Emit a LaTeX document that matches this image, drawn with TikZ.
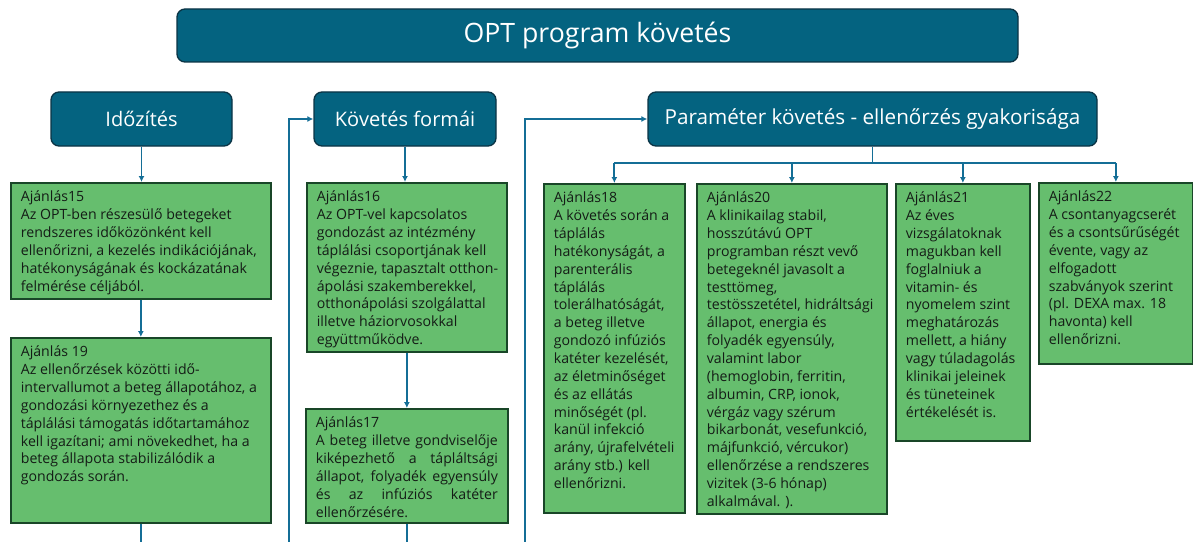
\documentclass[tikz,border=0pt]{standalone}
\usepackage{fontspec}
\setmainfont{Open Sans}
\usetikzlibrary{arrows.meta}

\definecolor{headfill}{RGB}{4,99,128}
\definecolor{headline}{RGB}{11,52,69}
\definecolor{recfill}{RGB}{102,190,110}
\definecolor{recline}{RGB}{25,70,40}
\definecolor{linkblue}{RGB}{20,110,150}
\definecolor{rectext}{RGB}{20,28,22}

\newcommand{\ajbox}[3]{\parbox[t][#2][t]{#1}{\raggedright\hyphenpenalty=10000\exhyphenpenalty=10000 #3}}

\begin{document}
\begin{tikzpicture}[x=0.75pt,y=-0.75pt,>={Latex[length=4.5pt,width=4.5pt]},
  head/.style={draw=headline,fill=headfill,line width=1pt,rounded corners=6pt,text=white,minimum height=40.5pt,inner sep=0pt},
  rec/.style={draw=recline,fill=recfill,line width=1.3pt,anchor=north west,inner xsep=7.5pt,inner ysep=6pt,text=rectext,font=\fontsize{10.6pt}{13.4pt}\selectfont},
  link/.style={draw=linkblue,line width=1.45pt}]
\useasboundingbox (0,0) rectangle (1193,542);

\node[head,minimum width=630.75pt,minimum height=39.75pt,font=\fontsize{20pt}{24pt}\selectfont] (opt) at (597.5,35.5) {OPT program követés};

\node[head,minimum width=135.75pt,font=\fontsize{15pt}{18pt}\selectfont] (idoz) at (141.5,119) {Időzítés};
\node[head,minimum width=136.5pt,font=\fontsize{15pt}{18pt}\selectfont] (kovf) at (405,119) {Követés formái};
\node[head,minimum width=336.75pt,font=\fontsize{15.5pt}{18pt}\selectfont] (param) at (872.5,119) {Paraméter követés - ellenőrzés gyakorisága};

\node[rec] (a15) at (10,182) {\ajbox{180pt}{75pt}{Ajánlás15\\
Az OPT-ben részesülő betegeket\\
rendszeres időközönként kell\\
ellenőrizni, a kezelés indikációjának,\\
hatékonyságának és kockázatának\\
felmérése céljából.}};
\node[rec] (a19) at (10,337) {\ajbox{180pt}{126.75pt}{Ajánlás 19\\
Az ellenőrzések közötti idő-\\
intervallumot a beteg állapotához, a\\
gondozási környezethez és a\\
táplálási támogatás időtartamához\\
kell igazítani; ami növekedhet, ha a\\
beteg állapota stabilizálódik a\\
gondozás során.}};

\node[rec] (a16) at (306,182) {\ajbox{135pt}{114.75pt}{Ajánlás16\\
Az OPT-vel kapcsolatos\\
gondozást az intézmény\\
táplálási csoportjának kell\\
\mbox{végeznie, tapasztalt otthon-}\\
ápolási szakemberekkel,\\
otthonápolási szolgálattal\\
illetve háziorvosokkal\\
együttműködve.}};
\node[rec] (a17) at (305,408) {\parbox[t][73.5pt][t]{136.5pt}{Ajánlás17\\
A beteg illetve gondviselője\linebreak
kiképezhető a tápláltsági\linebreak
állapot, folyadék egyensúly\linebreak
és az infúziós katéter\linebreak
ellenőrzésére.}};

\node[rec] (a18) at (543,183) {\ajbox{90.75pt}{234.75pt}{Ajánlás18\\
A követés során a\\
táplálás\\
hatékonyságát, a\\
parenterális\\
táplálás\\
tolerálhatóságát,\\
a beteg illetve\\
gondozó infúziós\\
katéter kezelését,\\
az életminőséget\\
és az ellátás\\
minőségét (pl.\\
kanül infekció\\
arány, újrafelvételi\\
arány stb.) kell\\
ellenőrizni.}};
\node[rec] (a20) at (696,183) {\ajbox{127.5pt}{235.5pt}{Ajánlás20\\
A klinikailag stabil,\\
hosszútávú OPT\\
programban részt vevő\\
betegeknél javasolt a\\
testtömeg,\\
testösszetétel, hidráltsági\\
állapot, energia és\\
folyadék egyensúly,\\
valamint labor\\
(hemoglobin, ferritin,\\
albumin, CRP, ionok,\\
vérgáz vagy szérum\\
bikarbonát, vesefunkció,\\
májfunkció, vércukor)\\
ellenőrzése a rendszeres\\
vizitek (3-6 hónap)\\
alkalmával. ).}};
\node[rec] (a21) at (895,183) {\ajbox{85.5pt}{180.75pt}{Ajánlás21\\
Az éves\\
vizsgálatoknak\\
magukban kell\\
foglalniuk a\\
vitamin- és\\
nyomelem szint\\
meghatározás\\
mellett, a hiány\\
vagy túladagolás\\
klinikai jeleinek\\
és tüneteinek\\
értékelését is.}};
\node[rec] (a22) at (1038,182) {\ajbox{100.5pt}{123.75pt}{Ajánlás22\\
A csontanyagcserét\\
és a csontsűrűségét\\
évente, vagy az\\
elfogadott\\
szabványok szerint\\
(pl. DEXA max. 18\\
havonta) kell\\
ellenőrizni.}};

\coordinate (edge) at (0,542);
\coordinate (v1) at (289,542);
\coordinate (v2) at (525,542);
\coordinate (bus) at (872.5,163);

\draw[link,->] (idoz.south) -- (idoz.south |- a15.north);
\draw[link,->] (a15.south) -- (a19.north);
\draw[link] (a19.south) -- (a19.south |- edge);

\draw[link,->] (v1) |- (kovf.west);
\draw[link,->] (kovf.south) -- (kovf.south |- a16.north);
\draw[link,->] (a16.south) -- (a16.south |- a17.north);
\draw[link] (a17.south) -- (a17.south |- edge);

\draw[link,->] (v2) |- (param.west);
\draw[link] (param.south) -- (bus);
\draw[link] (a18.north |- bus) -- (a22.north |- bus);
\draw[link,->] (a18.north |- bus) -- (a18.north);
\draw[link,->] (a20.north |- bus) -- (a20.north);
\draw[link,->] (a21.north |- bus) -- (a21.north);
\draw[link,->] (a22.north |- bus) -- (a22.north);

\end{tikzpicture}
\end{document}
